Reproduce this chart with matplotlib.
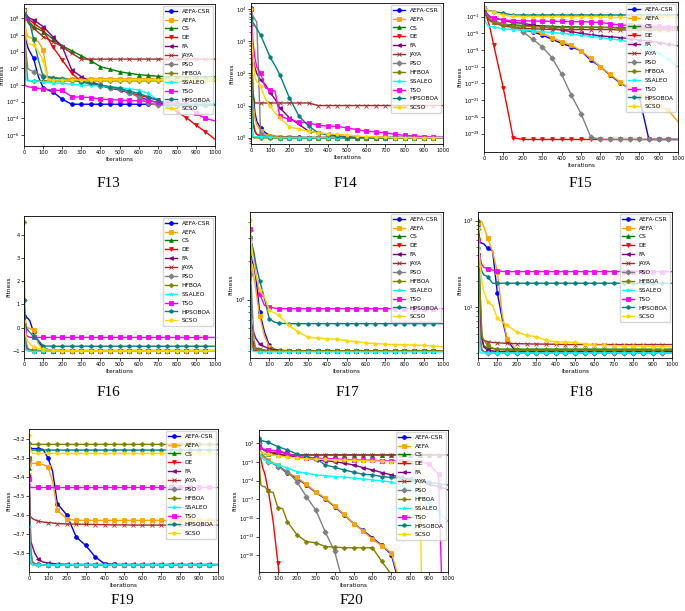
import numpy as np
import matplotlib
matplotlib.use('Agg')
import matplotlib.pyplot as plt
from matplotlib.ticker import NullFormatter

nan = np.nan

# iteration grid the curves are read at
iters = [0, 5, 10, 20, 30, 50, 75, 100, 125, 150, 200, 250, 300, 350, 400, 450,
         500, 550, 600, 650, 700, 750, 800, 850, 900, 950, 1000]

algos = ['AEFA-CSR', 'AEFA', 'CS', 'DE', 'FA', 'JAYA', 'PSO', 'HFBOA',
         'SSALEO', 'TSO', 'HPSOBOA', 'SCSO']
colors = ['blue', 'orange', 'green', 'red', 'purple', 'brown', 'gray', 'olive',
          'cyan', 'magenta', 'teal', 'gold']
markers = ['o', 's', '^', 'v', '<', 'x', 'D', 'P', '*', 's', 'h', 'p']

# F13, log10 of fitness
f13 = {
    'AEFA-CSR': [9, 7, 5.5, 4.5, 4, 3.2, 1, -0.3, -0.6, -0.8, -1.7, -2.3] + [-2.3] * 15,
    'AEFA': [9, 7.5, 6.5, 5.8, 5.7, 5.5, 5.2, 4.2] + [0.75] * 19,
    'CS': [9, 8.6, 8.3, 7.8, 7.5, 7.0, 6.7, 6.4, 6.0, 5.5, 4.7, 4.1, 3.5, 2.9, 2.2, 1.9,
           1.6, 1.4, 1.25, 1.15, 1.05] + [1.0] * 6,
    'DE': [9, 8.7, 8.4, 8.0, 7.8, 7.4, 7.0, 6.6, 5.6, 4.6, 3.0, 1.4, 0.4, 0.2, -0.1, -0.35,
           -0.6, -0.9, -1.2, -1.5, -1.8, -2.4, -3.2, -3.9, -4.8, -5.6, -6.5],
    'FA': [9, 8.7, 8.5, 8.2, 8.0, 7.8, 7.4, 7.0, 6.4, 5.8, 4.6, 1.8, 1.0, 0.4, 0, -0.3,
           -0.6, -0.9, -1.4, -1.8, -2.1, -2.3] + [-2.35] * 5,
    'JAYA': [9, 8.5, 8, 7.5, 7.2, 6.8, 6.3, 5.8, 5.5, 5.2, 4.6, 3.8, 3.1] + [3.1] * 14,
    'PSO': [9, 6, 4, 2, 1.8, 1.6, 1.3, 1.1, 1.0, 0.9, 0.75, 0.6, 0.4, 0.1, -0.1, -0.3,
            -0.5, -0.9, -1.4, -2.2, -2.4] + [-2.4] * 6,
    'HFBOA': [9, 6, 3, 0.5] + [0.5] * 23,
    'SSALEO': [9, 5, 0.6, 0.6, 0.55, 0.5, 0.45, 0.4, 0.35, 0.3, 0.2, 0.1, 0, -0.05, -0.1,
               -0.2, -0.3, -0.45, -0.6, -1.0, -1.8, -2.2] + [-2.2] * 5,
    'TSO': [8, 0, -0.1, -0.2, -0.25, -0.3, -0.4, -0.45, -0.55, -0.6, -0.65, -1.4, -1.45,
            -1.5, -1.7, -1.75, -1.8, -1.85, -1.9, -1.95, -2.0, -2.1, -2.2, -2.3, -3.4, -4.0, -4.3],
    'HPSOBOA': [9, 8.7, 8.4, 8.0, 7.5, 5.5, 3, 1.0, 0.95, 0.9, 0.75, 0.6, 0.4, 0.2, 0, -0.2,
                -0.4, -0.7, -1.0, -1.4, -1.8, -2.4] + [-2.4] * 5,
    'SCSO': [9, 7, 6, 5, 4.9, 4.8, 4, 3.0, 0.6] + [0.6] * 18,
}

# F14, log10 of fitness
f14 = {
    'AEFA-CSR': [4.05, 2.5, 1.5, 0.8, 0.5, 0.3, 0.15, 0.06, 0.04, 0.03, 0.02, 0.01] + [0.0] * 15,
    'AEFA': [4.0, 2.3, 1.2, 0.6, 0.4, 0.2, 0.1, 0.05, 0.03, 0.02, 0.01] + [0.0] * 16,
    'CS': [3.8, 1.5, 0.5, 0.2, 0.1, 0.05, 0.03, 0.02] + [0.0] * 19,
    'DE': [2.5, 1.0, 0.5, 0.2, 0.1, 0.05, 0.02] + [0.0] * 20,
    'FA': [4.0, 3.0, 2.5, 2.2, 2.0, 1.8, 1.65, 1.4, 1.2, 0.93, 0.62, 0.41, 0.2, 0.15, 0.1,
           0.05, 0.03] + [0.0] * 10,
    'JAYA': [2.3, 1.6, 1.3] + [1.08] * 10 + [1.0] * 14,
    'PSO': [4.0, 3.9, 3.8, 3.7, 3.6, 0.1, 0.05, 0.03] + [0.0] * 19,
    'HFBOA': [3.5, 0.5, 0.0] + [-0.01] * 24,
    'SSALEO': [3.0, 0.3, 0.05, 0.03, 0.03, 0.03, 0.02, 0.01] + [0.0] * 19,
    'TSO': [4.0, 3.5, 3.0, 2.5, 2.2, 2.0, 1.55, 1.5, 1.45, 0.67, 0.57, 0.48, 0.46, 0.38,
            0.36, 0.35, 0.3, 0.25, 0.2, 0.18, 0.15, 0.1, 0.07, 0.05, 0.03, 0.01, 0.0],
    'HPSOBOA': [3.7, 3.65, 3.6, 3.5, 3.4, 3.2, 2.85, 2.5, 2.25, 1.96, 1.24, 0.67, 0.36, 0.15,
                0.08, 0.04, 0.0] + [0.0] * 10,
    'SCSO': [4.0, 3.0, 2.6, 1.9, 1.75, 1.6, 1.2, 0.98, 0.77, 0.62, 0.34, 0.26, 0.2, 0.15,
             0.12, 0.1, 0.08, 0.05, 0.03, 0.02, 0.01] + [0.0] * 6,
}

# F15, log10 of fitness
f15 = {
    'AEFA-CSR': [0.5, 0, -0.5, -1.0, -1.5, -2.0, -2.4, -2.8, -3.2, -3.4, -4.2, -4.6, -5.4,
                 -6.4, -7.4, -8.2, -9.2, -11.4, -13.0, -15.0, -16.8, -18.2, -20.2] + [-30.4] * 4,
    'AEFA': [0.5, 0, -0.5, -1.0, -1.5, -2.0, -2.4, -2.8, -3.1, -3.3, -4.0, -4.4, -5.0, -6.0,
             -7.0, -7.8, -9.2, -11.0, -13.0, -14.8, -16.6, -18.2, -19.8, -21.0, -22.4, -23.4, -26.2],
    'CS': [1.0, 0.5, 0, -1.0, -1.8, -2.4, -2.6, -2.8, -2.9, -3.0, -3.1, -3.15, -3.2, -3.3,
           -3.4, -3.4, -3.5, -3.5, -3.55, -3.6, -3.6] + [-3.6] * 6,
    'DE': [0.5, 0, -0.6, -2.0, -3.5, -7.8, -13, -18.2, -24, -30.0] + [-30.4] * 17,
    'FA': [0.8, 0.3, 0, -0.6, -1.0, -1.4, -1.6, -1.8, -2.2, -2.4, -2.6, -3.0, -3.4, -3.8,
           -4.2, -4.6, -5.0, -5.3, -5.6, -5.8, -6.0, -6.3, -6.6, -6.9, -7.2, -7.6, -8.0],
    'JAYA': [0.5, 0, -0.6, -1.4, -2.0, -2.4, -2.9, -3.2, -3.4, -3.6, -3.8, -3.9, -4.0]
            + [-4.1] * 7 + [-4.2] * 7,
    'PSO': [1.0, 0.5, 0, -0.8, -1.4, -2.2, -2.5, -2.8, -3.0, -3.4, -4.6, -6.4, -8.2, -10.8,
            -14.8, -19.8, -24.2, -29.8] + [-30.4] * 9,
    'HFBOA': [0.6, 0.2, -0.3, -1.0, -1.6, -2.4, -2.7, -3.0, -3.1, -3.2, -3.3, -3.4, -3.5]
             + [-3.6] * 7 + [-3.8] * 7,
    'SSALEO': [-1.0, -1.8, -2.5, -3.2, -3.4, -3.5, -3.7, -4.0, -4.0, -4.1, -4.2, -4.4, -4.6,
               -4.8, -5.0, -5.2, -5.5, -5.7, -6.0, -6.3, -6.6, -7.1, -7.8, -8.6, -9.8, -11.2, -13.0],
    'TSO': [1.0, 0.5, 0, -0.5, -1.0, -1.4, -1.6, -1.8, -1.9, -1.95, -2.0, -2.05, -2.1, -2.1,
            -2.15, -2.2, -2.2, -2.3, -2.4, -2.7, -3.0, -3.1, -3.2, -3.3, -3.3, -3.4, -3.4],
    'HPSOBOA': [0.8, 0.7, 0.6, 0.5, 0.4, 0.2, 0.0, -0.2, -0.4, -0.6] + [-0.6] * 17,
    'SCSO': [1.2, 1.0, 0.8, 0.5, 0.3, 0.0, -0.3, -0.6, -0.8, -0.9, -1.0] + [-1.0] * 8 + [-1.2] * 8,
}

# F16, fitness
f16 = {
    'AEFA-CSR': [0.5, 0.48, 0.45, 0.4, 0.3, -0.2, -0.6, -0.9, -0.95, -0.98, -1.0] + [-1.03] * 16,
    'AEFA': [0.1, 0.05, 0.0, 0.0, -0.05, -0.1, -0.7, -0.95, -0.98, -1.0] + [-1.0] * 17,
    'CS': [0.5, -0.5, -0.9, -0.95, -0.98, -1.0] + [-1.03] * 21,
    'DE': [-0.2, -0.6, -0.8, -0.95, -1.0] + [-1.03] * 22,
    'FA': [0.0, -0.5, -0.8, -0.95, -0.97, -1.0] + [-1.0] * 21,
    'JAYA': [-0.5, -0.8, -0.9, -0.95, -0.97, -0.99] + [-1.0] * 21,
    'PSO': [1.2, 0.0, -0.6, -0.9, -0.95, -1.0] + [-1.02] * 21,
    'HFBOA': [4.55, -0.5, -0.95, -1.0] + [-1.03] * 23,
    'SSALEO': [-0.2, -0.8, -0.95, -1.0, -1.02, -1.05] + [-1.03] * 21,
    'TSO': [-0.17, -0.25, -0.3, -0.39, -0.42, -0.43] + [-0.43] * 21,
    'HPSOBOA': [1.2, 0.5, 0.0, -0.1, -0.2, -0.4, -0.55, -0.8, -0.8] + [-0.81] * 18,
    'SCSO': [0.3, 0.0, -0.4, -0.6, -0.7, -0.85, -0.9, -0.95, -0.97, -0.98, -1.0] + [-1.0] * 16,
}

# F17, fitness
f17 = {
    'AEFA-CSR': [2.65, 2.3, 2.0, 1.85, 1.5, 0.80, 0.56, 0.44, 0.41, 0.40] + [0.398] * 17,
    'AEFA': [2.3, 2.0, 1.8, 1.5, 1.2, 0.75, 0.52, 0.43, 0.41, 0.40] + [0.398] * 17,
    'CS': [1.64, 0.8, 0.5, 0.42, 0.41, 0.40] + [0.398] * 21,
    'DE': [1.5, 0.6, 0.45, 0.40, 0.40, 0.399] + [0.398] * 21,
    'FA': [0.75, 0.68, 0.63, 0.55, 0.5, 0.45, 0.43, 0.415, 0.41, 0.405] + [0.40] * 17,
    'JAYA': [3.0, 0.8, 0.5, 0.45, 0.42, 0.41, 0.405] + [0.40] * 20,
    'PSO': [3.47, 1.5, 1.0, 0.5, 0.41, 0.40] + [0.398] * 21,
    'HFBOA': [3.0, 0.8, 0.45, 0.42, 0.41, 0.405] + [0.40] * 21,
    'SSALEO': [1.37, 0.45, 0.40, 0.395, 0.393] + [0.392] * 22,
    'TSO': [3.57, 3.0, 2.6, 2.2, 1.6, 1.11, 0.90, 0.877, 0.86] + [0.85] * 18,
    'HPSOBOA': [3.08, 2.9, 2.7, 2.35, 1.9, 1.41, 1.02, 0.71, 0.67, 0.655] + [0.65] * 17,
    'SCSO': [4.15, 3.0, 2.5, 1.97, 1.6, 1.18, 1.05, 0.826, 0.79, 0.755, 0.63, 0.56, 0.51,
             0.50, 0.497, 0.49, 0.48, 0.47, 0.46, 0.455, 0.45, 0.447, 0.445, 0.443, 0.44, 0.435, 0.43],
}

# F18, fitness
f18 = {
    'AEFA-CSR': [90, 70, 57, 55, 54, 48, 45, 14.5, 7.4, 4.2, 3.0] + [3.0] * 16,
    'AEFA': [94, 98, 100, 97, 85, 63, 44, 25.9, 8.15, 4.37, 3.2] + [3.15] * 16,
    'CS': [103, 40, 16.6, 4.4, 3.6, 3.4, 3.35, 3.3] + [3.3] * 19,
    'DE': [60, 12, 4.4, 3.2, 3.1, 3.05] + [3.05] * 21,
    'FA': [40, 15, 8, 4.4, 3.5, 3.2, 3.15, 3.1] + [3.1] * 19,
    'JAYA': [40, 10, 5.2, 4.4, 4.18, 4.0, 3.95, 3.9, 3.88, 3.85, 3.82, 3.8, 3.78, 3.77, 3.76]
            + [3.73] * 12,
    'PSO': [80, 10, 5, 3.3, 3.1, 3.0] + [3.0] * 21,
    'HFBOA': [63, 30, 16.6, 4.8, 4.2, 3.66, 3.4, 3.3, 3.25, 3.22] + [3.2] * 17,
    'SSALEO': [31, 8, 3.0, 2.98] + [2.98] * 23,
    'TSO': [57.6, 45, 38, 31, 29, 28, 27, 26.4, 26] + [25.9] * 18,
    'HPSOBOA': [48, 40, 32, 26, 23.7, 22.7, 19, 19] + [19] * 19,
    'SCSO': [82, 50, 33.8, 19.8, 15.2, 11.6, 10.5, 7.46, 6.8, 6.24, 5.22, 4.78, 4.6, 4.18,
             4.0, 4.0, 3.94, 3.8, 3.66, 3.66, 3.6, 3.6, 3.6, 3.56, 3.53, 3.52, 3.5],
}

# F19, fitness
f19 = {
    'AEFA-CSR': [-3.249, -3.25, -3.25, -3.25, -3.25, -3.25, -3.255, -3.299, -3.37, -3.54,
                 -3.60, -3.716, -3.76, -3.82, -3.857, -3.86, -3.862] + [-3.862] * 10,
    'AEFA': [-3.33, -3.33, -3.328, -3.328, -3.328, -3.328, -3.335, -3.346, -3.425, -3.575,
             -3.62, -3.628] + [-3.628] * 15,
    'CS': [-3.35, -3.7, -3.8, -3.85, -3.855, -3.86] + [-3.862] * 21,
    'DE': [-3.40, -3.8, -3.855, -3.862, -3.862, -3.862] + [-3.862] * 21,
    'FA': [-3.3, -3.6, -3.74, -3.77, -3.80, -3.834, -3.848, -3.852, -3.855, -3.857] + [-3.86] * 17,
    'JAYA': [-3.39, -3.6, -3.61, -3.62, -3.625, -3.633, -3.637, -3.64, -3.642, -3.645,
             -3.647, -3.648, -3.649, -3.65, -3.651, -3.652, -3.652] + [-3.653] * 10,
    'PSO': [-3.31, -3.6, -3.8, -3.85, -3.855, -3.86] + [-3.862] * 21,
    'HFBOA': [-3.3, -3.23] + [-3.228] * 25,
    'SSALEO': [-3.66, -3.80, -3.85, -3.862, -3.863] + [-3.863] * 22,
    'TSO': [-3.41, -3.455] + [-3.455] * 25,
    'HPSOBOA': [-3.22, -3.258] + [-3.258] * 25,
    'SCSO': [-3.18, -3.24, -3.26, -3.276, -3.276] + [-3.276] * 22,
}

# F20, log10 of fitness (nan once a run has dropped out of the axis)
f20 = {
    'AEFA-CSR': [2.0, 1.0, 0.3, -0.1, -0.3, -0.8, -1.2, -1.6, -2.2, -2.8, -3.6, -4.7, -5.9,
                 -6.9, -8.2, -9.5, -10.9, -12.0, -13.2, -14.4, -15.9, -21.5] + [nan] * 5,
    'AEFA': [2.0, 1.0, 0.3, -0.1, -0.3, -0.7, -1.1, -1.5, -2.1, -2.65, -3.45, -4.6, -5.8,
             -6.8, -8.1, -9.4, -10.9, -12.1, -13.4, -14.5, -15.6, -20.8] + [nan] * 5,
    'CS': [2.0, 1.0, 0.6, 0.4, 0.3, 0.2, 0.15, 0.13] + [0.13] * 19,
    'DE': [1.73, 0.5, -0.5, -2.0, -2.8, -5.75, -10.6, -17.25, -25] + [nan] * 18,
    'FA': [2.27, 1.8, 1.5, 1.1, 0.9, 0.66, 0.4, 0.23, 0.1, 0.0, -0.14, -0.4, -0.67, -0.8,
           -0.94, -1.2, -1.48, -1.9, -2.28, -2.7, -3.08, -3.5, -3.7, -4.0, -4.6, -4.95, -5.5],
    'JAYA': [1.5, 1.3, 1.2, 1.0, 0.8, 0.6, 0.55, 0.55, 0.5, 0.13] + [0.13] * 17,
    'PSO': [2.0, 1.2, 0.6, 0.1, -0.1, -0.94, -1.3, -1.74, -2.1, -2.55, -4.15, -6.56, -8.7,
            -12.2, -15.4, -21] + [nan] * 11,
    'HFBOA': [2.8, -3.0, -4.7, -4.95, -4.95, -5.75, -5.9, -8.4, -8.5, -10.6, -12.7, -13.8,
              -14.0, -14.6, -14.7, -14.8, -14.8, -14.8, -14.8, -17.0, -19.1] + [nan] * 6,
    'SSALEO': [1.2, 0.3, -0.14, -0.5, -0.7, -0.94, -1.2, -1.48, -1.7, -2.0, -2.55, -2.8,
               -3.08, -3.2, -3.35, -3.45, -3.6, -3.75, -3.88, -4.05, -4.25, -4.7, -5.5,
               -6.56, -7.6, -8.96, -10.6],
    'TSO': [1.47, 1.3, 1.2, 1.1, 1.0, 0.93, 0.85, 0.77, 0.6, 0.4, -0.14, -0.3, -0.4, -0.45,
            -0.5, -0.6, -0.67, -0.7, -0.75, -0.8, -0.85, -0.9, -0.95, -1.0, -1.3, -3.0, -55],
    'HPSOBOA': [2.7, 2.6, 2.5, 2.4, 2.3, 2.16, 1.8, 1.47, 1.2, 0.93, 0.29, -0.14, -0.4,
                -1.48, -1.85, -2.28, -2.65, -2.97, -3.08, -3.35, -3.5, -3.6, -3.78, -4.04,
                -4.3, -4.5, -4.7],
    'SCSO': [0.66, 0.6, 0.5, 0.4, 0.35, 0.3, 0.1, 0.0, -0.1, -0.2, -0.4, -0.5, -0.55, -0.6,
             -0.67, -0.7, -0.75, -0.8, -0.85, -0.9, -0.95, -1.0, -1.1, -1.1, -100] + [nan] * 2,
}

# layout: name, data, axes box in px (left, top, right, bottom), scale, ylim, yticks, caption centre
W, H = 685, 611
panels = [
    ('F13', f13, (24, 4, 215, 146), 'exp', (-7.3, 9.7), list(range(-6, 9, 2)), (108, 183)),
    ('F14', f14, (251, 3, 443, 144), 'exp', (-0.2, 4.2), list(range(0, 5)), (345, 183)),
    ('F15', f15, (484, 2, 678, 152), 'exp', (-33.4, 2.5), list(range(-29, 0, 4)), (580, 183)),
    ('F16', f16, (24, 216, 215, 358), 'lin', (-1.32, 4.83), list(range(-1, 5)), (108, 393)),
    ('F17', f17, (250, 212, 443, 358), 'log', (0.351, 4.82), [1.0], (347, 393)),
    ('F18', f18, (478, 212, 672, 358), 'log', (2.61, 126), [10.0, 100.0], (581, 393)),
    ('F19', f19, (29, 429, 218, 572), 'lin', (-3.90, -3.147),
     [-3.8, -3.7, -3.6, -3.5, -3.4, -3.3, -3.2], (122, 600)),
    ('F20', f20, (259, 430, 448, 572), 'exp', (-18.7, 4.14), list(range(-16, 3, 3)), (351, 600)),
]

marks = [(x % 50 == 0) and x < 1000 for x in iters]

fig = plt.figure(figsize=(W / 100, H / 100), dpi=100)

for name, data, box, scale, lims, ticks, cap in panels:
    l, t, r, b = box
    ax = fig.add_axes([l / W, 1 - b / H, (r - l) / W, (b - t) / H])
    for a, c, m in zip(algos, colors, markers):
        y = np.array(data[a], dtype=float)
        if scale == 'exp':
            y = 10.0 ** y
        ax.plot(iters, y, color=c, marker=m, markevery=marks, ms=2.7, mew=0.6,
                lw=1.0, label=a)
    if scale == 'exp':
        ax.set_yscale('log')
        ax.set_ylim(10.0 ** lims[0], 10.0 ** lims[1])
        ax.set_yticks([10.0 ** k for k in ticks])
    elif scale == 'log':
        ax.set_yscale('log')
        ax.set_ylim(*lims)
        ax.set_yticks(ticks)
    else:
        ax.set_ylim(*lims)
        ax.set_yticks(ticks)
    ax.yaxis.set_minor_formatter(NullFormatter())
    ax.set_xlim(0, 1000)
    ax.set_xticks(range(0, 1001, 100))
    ax.tick_params(labelsize=3.7, length=2, width=0.5, pad=1.2)
    ax.tick_params(which='minor', length=1.2, width=0.4)
    for s in ax.spines.values():
        s.set_linewidth(0.6)
    ax.set_xlabel('Iterations', fontsize=4.2, labelpad=1.2)
    ax.set_ylabel('Fitness', fontsize=4.2, labelpad=0.8)
    ax.legend(loc='upper right', fontsize=4.2, handlelength=2, borderpad=0.4,
              labelspacing=0.65, frameon=True, fancybox=True, borderaxespad=0.4)
    fig.text(cap[0] / W, 1 - cap[1] / H, name, ha='center', va='center',
             fontsize=11, family='Liberation Serif')

fig.savefig('out.png', dpi=100, facecolor='white')
